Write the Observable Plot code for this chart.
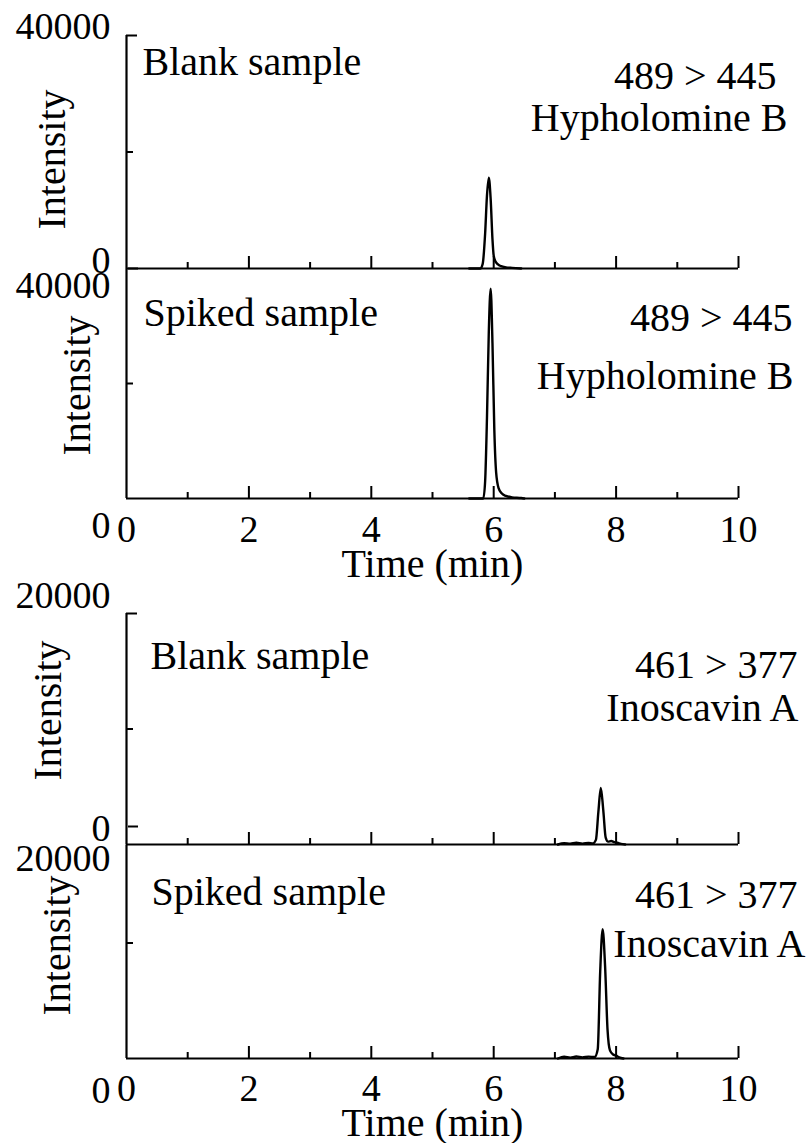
<!DOCTYPE html>
<html>
<head>
<meta charset="utf-8">
<script src="https://cdn.jsdelivr.net/npm/d3@7"></script>
<script src="https://cdn.jsdelivr.net/npm/@observablehq/plot@0.6"></script>
<style>
  html, body { margin: 0; padding: 0; background: #ffffff; }
  #chart { position: relative; width: 808px; height: 1143px; overflow: hidden; }
  #chart svg { position: absolute; left: 0; top: 0; background: transparent; }
</style>
</head>
<body>
<div id="chart"></div>
<script>
// ---------------- data ----------------
// Hypholomine B, 489 > 445, blank sample
const hbBlankTime      = [5.60, 5.78, 5.82, 5.86, 5.89, 5.92, 5.95, 5.98, 6.00, 6.03, 6.07, 6.12, 6.20, 6.30, 6.45];
const hbBlankIntensity = [0,    0,    800,  6000, 12500, 15600, 12000, 5000, 2200, 1200, 700, 400, 200, 100, 0];
// Hypholomine B, 489 > 445, spiked sample
const hbSpikedTime      = [5.60, 5.83, 5.86, 5.89, 5.92, 5.95, 5.98, 6.01, 6.04, 6.08, 6.13, 6.20, 6.30, 6.45, 6.50];
const hbSpikedIntensity = [0,    0,    3000, 14000, 29000, 36500, 27000, 12000, 4500, 1800, 900, 450, 200, 80, 0];
// Inoscavin A, 461 > 377, blank sample
const iaBlankTime      = [7.05, 7.15, 7.25, 7.35, 7.45, 7.55, 7.62, 7.67, 7.71, 7.75, 7.79, 7.83, 7.87, 7.92, 7.97, 8.02, 8.08, 8.15];
const iaBlankIntensity = [0,    120,  60,   150,  80,   140,  100,  400,  2800, 4900, 3000, 600,  250,  300,  200,  150,  50,   0];
// Inoscavin A, 461 > 377, spiked sample
const iaSpikedTime      = [7.05, 7.15, 7.25, 7.35, 7.45, 7.55, 7.65, 7.70, 7.74, 7.78, 7.82, 7.86, 7.90, 7.95, 8.00, 8.05, 8.12];
const iaSpikedIntensity = [0,    150,  80,   170,  100,  160,  130,  800,  7500, 11200, 8000, 2500, 700, 350,  250,  100,  0];

const xMajorTicks = [2, 4, 6, 8, 10];
const xMinorTicks = [1, 3, 5, 7, 9];
const xTickLabels = [0, 2, 4, 6, 8, 10];
const xDomain = [0, 10];

const sampleLabels = ["Blank sample", "Spiked sample", "Blank sample", "Spiked sample"];
const transitionLabels = ["489 > 445", "489 > 445", "461 > 377", "461 > 377"];
const compoundLabels = ["Hypholomine B", "Hypholomine B", "Inoscavin A", "Inoscavin A"];
const yMaxValues = [40000, 40000, 20000, 20000];
const yMidValues = [20000, 20000, 10000, 10000];
const yAxisTopValues = [40000, 40000, 20000, 18500];
const yTopLabels = ["40000", "40000", "20000", "20000"];
const yZeroLabels = ["0", "0", "0", "0"];
const yAxisTitle = "Intensity";
const xAxisTitle = "Time (min)";

const traces = [
  hbBlankTime.map((t, i) => ({time: t, intensity: hbBlankIntensity[i]})),
  hbSpikedTime.map((t, i) => ({time: t, intensity: hbSpikedIntensity[i]})),
  iaBlankTime.map((t, i) => ({time: t, intensity: iaBlankIntensity[i]})),
  iaSpikedTime.map((t, i) => ({time: t, intensity: iaSpikedIntensity[i]}))
];

// ---------------- layout (pixels) ----------------
const W = 808, H = 1143;
const ML = 126, MR = 70;
const FONT = "'Liberation Serif', 'Times New Roman', serif";
const FS = 38;      // tick labels
const FS_T = 40;    // titles and annotations
const layout = [
  {top: 35,  zero: 268,  topTick: true,  zeroTickDy: 0,   topDy: -9,  zeroDy: -8, xLabels: false,
   intDx: -74, intDy: 7.5, sample: [16, 39], trans: [38, 53], comp: [49, 95]},
  {top: 268, zero: 498,  topTick: false, zeroTickDy: null, topDy: 17,  zeroDy: 27, xLabels: true, pad: 17, timeDy: 78,
   intDx: -49, intDy: 2, sample: [17, 57], trans: [54, 62], comp: [55, 120]},
  {top: 613, zero: 844,  topTick: true,  zeroTickDy: -18, topDy: -18, zeroDy: -16, xLabels: false,
   intDx: -78, intDy: -18.5, sample: [24, 55], trans: [59, 64], comp: [60, 107]},
  {top: 827, zero: 1058, topTick: false, zeroTickDy: null, topDy: 31,  zeroDy: 32, xLabels: true, pad: 16, timeDy: 77,
   intDx: -69, intDy: 2.5, sample: [25, 77], trans: [59, 80], comp: [67, 129]}
];

const frameW = W - ML - MR;
const chart = document.getElementById("chart");

layout.forEach((L, p) => {
  const frameH = L.zero - L.top;
  const marks = [
    // axis lines
    Plot.ruleX([0], {x: d => d, y1: 0, y2: yAxisTopValues[p], stroke: "#000", strokeWidth: 2.2}),
    Plot.ruleY([0], {y: d => d, x1: xDomain[0], x2: xDomain[1], stroke: "#000", strokeWidth: 2.2}),
    // x ticks pointing inward
    Plot.tickX(xMajorTicks, {x: d => d, insetTop: frameH - 12, stroke: "#000", strokeWidth: 2}),
    Plot.tickX(xMinorTicks, {x: d => d, insetTop: frameH - 6, stroke: "#000", strokeWidth: 2}),
    // y ticks pointing inward
    Plot.tickY([yMidValues[p]], {y: d => d, insetRight: frameW - 7, stroke: "#000", strokeWidth: 2}),
    // trace
    Plot.line(traces[p], {x: "time", y: "intensity", curve: "monotone-x", stroke: "#000", strokeWidth: 2.4}),
    // y tick labels
    Plot.axisY({ticks: [yMaxValues[p]], tickFormat: () => yTopLabels[p], tickSize: 0, tickPadding: 16, dy: L.topDy, fontSize: FS, label: null}),
    Plot.axisY({ticks: [0], tickFormat: () => yZeroLabels[p], tickSize: 0, tickPadding: 16, dy: L.zeroDy, fontSize: FS, label: null}),
    // y axis title
    Plot.text([yAxisTitle], {text: d => d, frameAnchor: "left", textAnchor: "middle", lineAnchor: "middle", rotate: -90,
      dx: L.intDx, dy: L.intDy, fontSize: FS_T, fill: "#000"}),
    // annotations
    Plot.text([sampleLabels[p]], {text: d => d, frameAnchor: "top-left", textAnchor: "start", lineAnchor: "bottom",
      dx: L.sample[0], dy: L.sample[1], fontSize: FS_T, fill: "#000"}),
    Plot.text([transitionLabels[p]], {text: d => d, frameAnchor: "top-right", textAnchor: "end", lineAnchor: "bottom",
      dx: L.trans[0], dy: L.trans[1], fontSize: FS_T, fill: "#000"}),
    Plot.text([compoundLabels[p]], {text: d => d, frameAnchor: "top-right", textAnchor: "end", lineAnchor: "bottom",
      dx: L.comp[0], dy: L.comp[1], fontSize: FS_T, fill: "#000"})
  ];
  if (L.topTick) {
    marks.push(Plot.tickY([yMaxValues[p]], {y: d => d, insetRight: frameW - 11, stroke: "#000", strokeWidth: 2}));
  }
  if (L.zeroTickDy !== null) {
    marks.push(Plot.tickY([0], {y: d => d, dy: L.zeroTickDy, insetLeft: 2, insetRight: frameW - 12, stroke: "#000", strokeWidth: 2}));
  }
  if (L.xLabels) {
    marks.push(Plot.axisX({ticks: xTickLabels, tickSize: 0, tickPadding: L.pad, fontSize: FS, label: null}));
    marks.push(Plot.text([xAxisTitle], {text: d => d, frameAnchor: "bottom", textAnchor: "middle", lineAnchor: "bottom",
      dy: L.timeDy, fontSize: FS_T, fill: "#000"}));
  }
  const svg = Plot.plot({
    width: W,
    height: H,
    marginLeft: ML,
    marginRight: MR,
    marginTop: L.top,
    marginBottom: H - L.zero,
    x: {domain: xDomain, axis: null},
    y: {domain: [0, yMaxValues[p]], axis: null},
    style: {fontFamily: FONT, fontSize: FS + "px", color: "#000", background: "transparent", overflow: "visible"},
    marks
  });
  chart.appendChild(svg);
});
</script>
</body>
</html>
